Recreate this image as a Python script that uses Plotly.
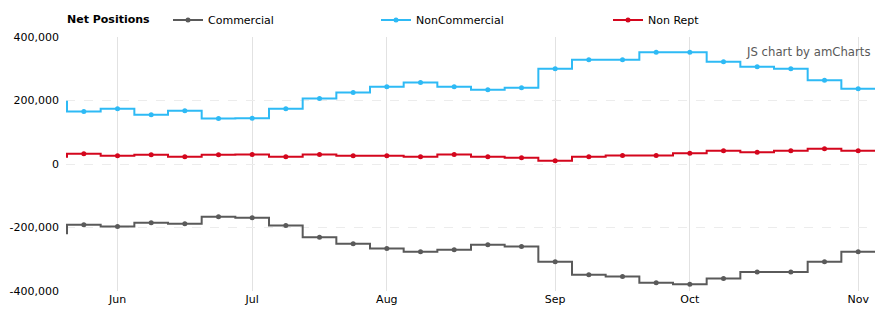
import plotly.graph_objects as go

# weekly report dates (first and last entries are the weeks just outside the visible window)
dates = ["2023-05-23", "2023-05-30", "2023-06-06", "2023-06-13", "2023-06-20", "2023-06-27",
         "2023-07-04", "2023-07-11", "2023-07-18", "2023-07-25", "2023-08-01", "2023-08-08",
         "2023-08-15", "2023-08-22", "2023-08-29", "2023-09-05", "2023-09-12", "2023-09-19",
         "2023-09-26", "2023-10-03", "2023-10-10", "2023-10-17", "2023-10-24", "2023-10-31",
         "2023-11-07", "2023-11-14"]

commercial = [-218000, -191000, -197000, -185000, -188000, -166000, -169000, -194000, -231000,
              -251000, -266000, -276000, -270000, -254000, -260000, -308000, -349000, -354000,
              -374000, -379000, -361000, -340000, -340000, -308000, -276000, -276000]
noncommercial = [196000, 165000, 174000, 155000, 168000, 143000, 144000, 174000, 206000,
                 225000, 243000, 257000, 243000, 234000, 240000, 300000, 328000, 328000,
                 352000, 352000, 322000, 306000, 300000, 264000, 237000, 237000]
nonrept = [23000, 32000, 26000, 29000, 23000, 29000, 30000, 23000, 30000, 26000, 26000, 23000,
           30000, 23000, 20000, 10000, 23000, 27000, 27000, 34000, 42000, 37000, 42000, 48000,
           42000, 42000]

month_ticks = ["2023-06-06", "2023-07-04", "2023-08-01", "2023-09-05", "2023-10-03", "2023-11-07"]
month_labels = ["Jun", "Jul", "Aug", "Sep", "Oct", "Nov"]
y_ticks = [-400000, -200000, 0, 200000, 400000]
y_labels = ["-400,000", "-200,000", "0", "200,000", "400,000"]

series = [
    ("Commercial", commercial, "#5a5a5a"),
    ("NonCommercial", noncommercial, "#2ebaf5"),
    ("Non Rept", nonrept, "#d4061d"),
]

W, H = 888, 325
ML, MR, MT, MB = 66, 13, 37, 34
PW = W - ML - MR
PH = H - MT - MB
legend_px = [168, 376, 608]   # left edge of each legend item, in pixels
title_y = 1 + (MT - 20) / PH  # header row at ~20px from top

FONT = "DejaVu Sans"
fig = go.Figure()
legend_ids = ["legend", "legend2", "legend3"]
for (name, vals, color), lid in zip(series, legend_ids):
    fig.add_trace(go.Scatter(
        x=dates, y=vals, name=name, mode="lines+markers",
        line=dict(color=color, width=2, shape="hvh"),
        marker=dict(color=color, size=5),
        cliponaxis=True, legend=lid,
    ))

legend_common = dict(
    orientation="h", xanchor="left", yanchor="middle", yref="container",
    y=1 - 20 / H, font=dict(family=FONT, size=11, color="#000"),
    bgcolor="rgba(0,0,0,0)", itemclick=False, itemdoubleclick=False,
)
layout_legends = {}
for lid, px in zip(legend_ids, legend_px):
    layout_legends[lid] = dict(legend_common, x=(px - ML) / PW)

fig.update_layout(
    width=W, height=H,
    margin=dict(l=ML, r=MR, t=MT, b=MB),
    paper_bgcolor="white", plot_bgcolor="white",
    font=dict(family=FONT, size=11, color="#000000"),
    showlegend=True,
    xaxis=dict(
        type="category", range=[0.47, len(dates) - 1.5],
        tickmode="array", tickvals=month_ticks, ticktext=month_labels,
        showgrid=True, gridcolor="#e2e2e2", gridwidth=1, automargin=False,
        showline=False, zeroline=False, ticks="", tickfont=dict(size=11, color="#000"),
    ),
    yaxis=dict(
        range=[-400000, 400000], tickmode="array", tickvals=y_ticks, ticktext=y_labels,
        showgrid=True, gridcolor="#ececec", griddash="dash", gridwidth=1, automargin=False,
        zeroline=False, showline=False, ticks="", ticklabelstandoff=6,
        tickfont=dict(size=11, color="#000"),
    ),
    annotations=[
        dict(text="<b>Net Positions</b>", xref="paper", yref="paper", x=-1 / PW, y=title_y,
             xanchor="left", yanchor="middle", showarrow=False,
             font=dict(family=FONT, size=11, color="#000")),
        dict(text="JS chart by amCharts", xref="paper", yref="paper", x=0.9963, y=0.942,
             xanchor="right", yanchor="middle", showarrow=False,
             font=dict(family=FONT, size=11.7, color="#595959")),
    ],
    **layout_legends,
)

fig.write_html("out.html")
